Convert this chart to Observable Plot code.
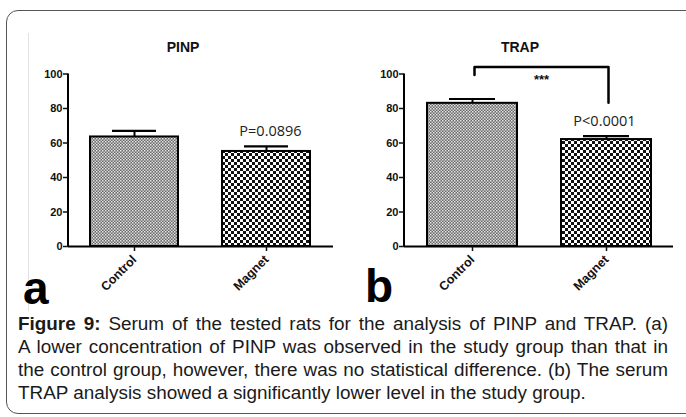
<!DOCTYPE html>
<html>
<head>
<meta charset="utf-8">
<script src="https://cdn.jsdelivr.net/npm/d3@7"></script>
<script src="https://cdn.jsdelivr.net/npm/@observablehq/plot@0.6"></script>
<style>
  html, body { margin: 0; padding: 0; background: #fff; }
  #root { position: relative; width: 686px; height: 417px; overflow: hidden; background: #fff; font-family: "Liberation Sans", Arial, sans-serif; }
  #frame { position: absolute; left: 6px; top: 10px; width: 720px; height: 404px; border: 1.5px solid #555; border-radius: 12px; box-sizing: border-box; }
  #imgedge { position: absolute; left: 28px; top: 33px; width: 1px; height: 278px; background: #e2e2e2; }
  .panel { position: absolute; top: 0; }
  .ptitle { position: absolute; width: 100px; text-align: center; font-weight: bold; font-size: 14px; line-height: 16px; color: #111; }
  .letter { position: absolute; font-weight: bold; font-size: 46px; line-height: 34px; color: #000; }
  #caption { position: absolute; left: 18px; top: 312px; width: 650px; font-size: 18.9px; line-height: 23px; color: #1a1a1a; }
  #caption div { text-align: justify; text-align-last: justify; white-space: nowrap; }
  #caption div.last { text-align: left; text-align-last: left; }
</style>
</head>
<body>
<div id="root">
  <div id="frame"></div>
  <div id="imgedge"></div>
  <div id="panelA" class="panel" style="left:0px"></div>
  <div id="panelB" class="panel" style="left:343px"></div>
  <div class="ptitle" style="left:133px; top:39px">PINP</div>
  <div class="ptitle" style="left:470px; top:39px">TRAP</div>
  <div class="letter" style="left:23px; top:271px">a</div>
  <div class="letter" style="left:365px; top:269px">b</div>
  <div id="caption">
    <div><b>Figure 9:</b> Serum of the tested rats for the analysis of PINP and TRAP. (a)</div>
    <div>A lower concentration of PINP was observed in the study group than that in</div>
    <div>the control group, however, there was no statistical difference. (b) The serum</div>
    <div class="last">TRAP analysis showed a significantly lower level in the study group.</div>
  </div>
</div>
<script>
// ---- data ----
const categories = ["Control", "Magnet"];
const pinpMean = [63.5, 55.1];
const pinpUpper = [67.0, 58.0];
const trapMean = [83.0, 62.0];
const trapUpper = [85.5, 64.0];
const yTicks = [0, 20, 40, 60, 80, 100];
const pinpP = "P=0.0896";
const trapP = "P<0.0001";
const bracketCats = ["Control", "Control", "Magnet", "Magnet"];
const bracketVals = [99.4, 104, 104, 83.3];
const starText = "***";

function defsMark(prefix) {
  return () => {
    const defs = d3.create("svg:defs");
    const fine = defs.append("pattern").attr("id", prefix + "fine")
      .attr("patternUnits", "userSpaceOnUse").attr("width", 3).attr("height", 3);
    fine.append("rect").attr("width", 3).attr("height", 3).attr("fill", "#6a6a6a");
    fine.append("rect").attr("width", 1.5).attr("height", 1.5).attr("fill", "#e6e6e6");
    fine.append("rect").attr("x", 1.5).attr("y", 1.5).attr("width", 1.5).attr("height", 1.5).attr("fill", "#d0d0d0");
    const coarse = defs.append("pattern").attr("id", prefix + "coarse")
      .attr("patternUnits", "userSpaceOnUse").attr("width", 6).attr("height", 6);
    coarse.append("rect").attr("width", 6).attr("height", 6).attr("fill", "#fff");
    coarse.append("rect").attr("width", 3).attr("height", 3).attr("fill", "#111");
    coarse.append("rect").attr("x", 3).attr("y", 3).attr("width", 3).attr("height", 3).attr("fill", "#111");
    return defs.node();
  };
}

function yAxisLine() {
  return (index, scales, values, dimensions) => {
    const g = d3.create("svg:g");
    g.append("line")
      .attr("x1", dimensions.marginLeft).attr("x2", dimensions.marginLeft)
      .attr("y1", scales.y(0)).attr("y2", scales.y(100))
      .attr("stroke", "#000").attr("stroke-width", 2);
    return g.node();
  };
}

function panel({prefix, mean, upper, marginLeft, marginRight, pText, pdx, pdy, extra}) {
  const rows = categories.map((c, i) => ({cat: c, mean: mean[i], upper: upper[i]}));
  const marks = [
    defsMark(prefix),
    Plot.barY(rows.filter(d => d.cat === categories[0]), {x: "cat", y: "mean", fill: `url(#${prefix}fine)`, stroke: "#000", strokeWidth: 2}),
    Plot.barY(rows.filter(d => d.cat === categories[1]), {x: "cat", y: "mean", fill: `url(#${prefix}coarse)`, stroke: "#000", strokeWidth: 2}),
    Plot.ruleX(rows, {x: "cat", y1: "mean", y2: "upper", stroke: "#000", strokeWidth: 2}),
    Plot.tickY(rows, {x: "cat", y: "upper", stroke: "#000", strokeWidth: 2.2, insetLeft: 22, insetRight: 22}),
    Plot.ruleY([0], {stroke: "#000", strokeWidth: 2}),
    yAxisLine(),
    Plot.axisY({ticks: yTicks, tickSize: 5, tickPadding: 1, strokeWidth: 1.5, fontSize: 11, fontWeight: "bold", label: null, tickFormat: d => String(d)}),
    Plot.axisX({tickSize: 5, tickPadding: 6, tickRotate: -45, strokeWidth: 1.5, fontSize: 12.5, fontWeight: "bold", label: null}),
    Plot.text(rows.filter(d => d.cat === categories[1]), {x: "cat", y: "upper", text: () => pText, dx: pdx, dy: pdy, fontSize: 14.5, fontWeight: "normal", fontFamily: "Open Sans", fill: "#222"}),
    ...(extra || [])
  ];
  return Plot.plot({
    width: 343, height: 300,
    marginLeft, marginRight, marginTop: 73.5, marginBottom: 54,
    x: {domain: categories, paddingInner: 0.33, paddingOuter: 0.165},
    y: {domain: [0, 100]},
    style: {fontFamily: "'Liberation Sans', Arial, sans-serif", color: "#111", background: "transparent", overflow: "visible"},
    marks
  });
}

const bracket = bracketCats.map((c, i) => ({cat: c, v: bracketVals[i]}));

document.getElementById("panelA").append(panel({
  prefix: "pA", mean: pinpMean, upper: pinpUpper, marginLeft: 68, marginRight: 10,
  pText: pinpP, pdx: 4, pdy: -15.5
}));

document.getElementById("panelB").append(panel({
  prefix: "pB", mean: trapMean, upper: trapUpper, marginLeft: 61, marginRight: 13,
  pText: trapP, pdx: -2, pdy: -14.5,
  extra: [
    Plot.line(bracket, {x: "cat", y: "v", stroke: "#000", strokeWidth: 2.5, dx: 2}),
    Plot.text([bracket[1]], {x: "cat", y: "v", text: () => starText, dx: 69, dy: 13, fontSize: 13, fontWeight: "bold", fill: "#111"})
  ]
}));
</script>
</body>
</html>
